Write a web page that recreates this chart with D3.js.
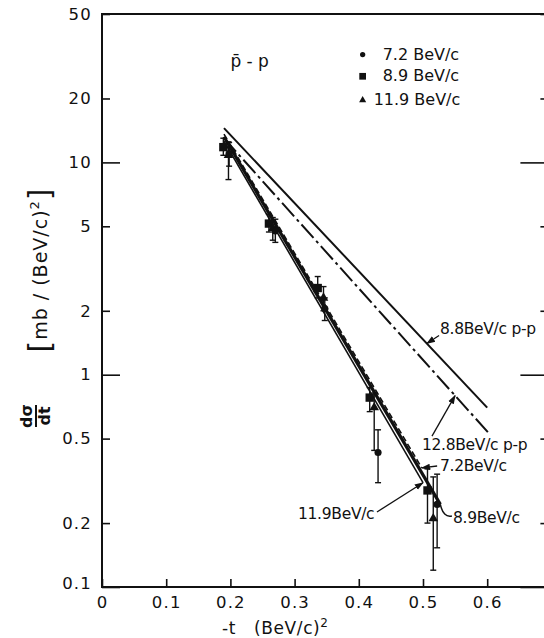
<!DOCTYPE html>
<html><head><meta charset="utf-8">
<script src="https://cdn.jsdelivr.net/npm/d3@7"></script>
<style>
body{margin:0;background:#fff}
svg text{font-family:"DejaVu Sans",sans-serif;fill:#111}
</style>
</head><body>
<svg id="chart" width="544" height="638"></svg>
<script>
// ---------- data ----------
const xTickValues = [0, 0.1, 0.2, 0.3, 0.4, 0.5, 0.6, 0.7];
const xTickLabels = ["0", "0.1", "0.2", "0.3", "0.4", "0.5", "0.6", ""];
const yTickValues = [0.1, 0.2, 0.5, 1, 2, 5, 10, 20, 50];
const yTickLabels = ["0.1", "0.2", "0.5", "1", "2", "5", "10", "20", "50"];

const seriesNames = ["7.2 BeV/c", "8.9 BeV/c", "11.9 BeV/c"];

// 7.2 BeV/c (circles): -t, dσ/dt, lower error, upper error
const t72  = [0.198, 0.270, 0.347, 0.430, 0.522];
const v72  = [11.0, 4.75, 2.05, 0.43, 0.245];
const lo72 = [9.6, 4.2, 1.8, 0.31, 0.153];
const hi72 = [12.4, 5.4, 2.3, 0.55, 0.34];

// 8.9 BeV/c (squares)
const t89  = [0.189, 0.260, 0.336, 0.417, 0.507];
const v89  = [11.8, 5.15, 2.56, 0.78, 0.285];
const lo89 = [10.8, 4.7, 2.3, 0.67, 0.20];
const hi89 = [13.0, 5.7, 2.9, 0.87, 0.36];

// 11.9 BeV/c (triangles)
const t119  = [0.197, 0.266, 0.345, 0.424, 0.516];
const v119  = [10.8, 4.9, 2.3, 0.70, 0.21];
const lo119 = [8.3, 4.3, 2.0, 0.44, 0.12];
const hi119 = [12.5, 5.5, 2.6, 0.82, 0.33];

// fitted p̄-p curves (end points of exponential fits)
const fitT72  = [0.19, 0.498];  const fitV72  = [13.6, 0.364];
const fitT89  = [0.19, 0.527];  const fitV89  = [13.2, 0.245];
const fitT119 = [0.19, 0.500];  const fitV119 = [12.6, 0.31];

// p-p reference curves
const ppT88  = [0.19, 0.600];  const ppV88  = [14.5, 0.70];
const ppT128 = [0.19, 0.605];  const ppV128 = [13.0, 0.52];

// ---------- chart ----------
const svg = d3.select("#chart");
const x = d3.scaleLinear().domain([0, 0.7]).range([102, 551.4]);
const y = d3.scaleLog().domain([0.1, 50]).range([587, 14]);
const ink = "#111";

const zip = (ts, vs) => ts.map((t, i) => [t, vs[i]]);
const line = d3.line().x(d => x(d[0])).y(d => y(d[1]));
const onLine = (ts, vs, t) => {
  const f = (t - ts[0]) / (ts[1] - ts[0]);
  return [t, Math.exp(Math.log(vs[0]) + f * (Math.log(vs[1]) - Math.log(vs[0])))];
};

// arrow marker
svg.append("defs").append("marker")
  .attr("id", "arr").attr("viewBox", "0 0 10 10").attr("refX", 9).attr("refY", 5)
  .attr("markerWidth", 7).attr("markerHeight", 7).attr("orient", "auto-start-reverse")
  .append("path").attr("d", "M0,1.5 L10,5 L0,8.5 Z").attr("fill", ink);

// frame
const frame = svg.append("g").attr("fill", "none").attr("stroke", ink).attr("stroke-width", 2);
frame.append("path").attr("d", d3.line()([[x(0.7), y(50)], [x(0), y(50)], [x(0), y(0.1)], [x(0.7), y(0.1)], [x(0.7), y(50)]]));

// axes
const yAxis = d3.axisLeft(y).tickValues(yTickValues)
  .tickFormat((d, i) => yTickLabels[i]).tickSizeInner(-8).tickSizeOuter(0).tickPadding(10);
const gy = svg.append("g").attr("transform", `translate(${x(0)},0)`).call(yAxis);
gy.select(".domain").remove();
gy.selectAll(".tick line").attr("stroke", ink).attr("stroke-width", 1.6)
  .attr("x2", d => (Math.log10(d) % 1 === 0 ? 18 : 8));
gy.selectAll(".tick text").attr("font-size", 16.5).attr("letter-spacing", 1.2).attr("fill", ink);
gy.selectAll(".tick").filter(d => d === 0.1).select("text").attr("dy", "0.1em");

const yAxisR = d3.axisRight(y).tickValues(yTickValues).tickFormat("").tickSizeInner(-8).tickSizeOuter(0);
const gyr = svg.append("g").attr("transform", `translate(${x(0.7)},0)`).call(yAxisR);
gyr.select(".domain").remove();
gyr.selectAll(".tick line").attr("stroke", ink).attr("stroke-width", 1.6)
  .attr("x2", d => (Math.log10(d) % 1 === 0 ? -31 : -11));

const xAxis = d3.axisBottom(x).tickValues(xTickValues)
  .tickFormat((d, i) => xTickLabels[i]).tickSizeInner(-8).tickSizeOuter(0).tickPadding(9);
const gx = svg.append("g").attr("transform", `translate(0,${y(0.1)})`).call(xAxis);
gx.select(".domain").remove();
gx.selectAll(".tick line").attr("stroke", ink).attr("stroke-width", 1.6);
gx.selectAll(".tick text").attr("font-size", 16.5).attr("letter-spacing", 1.2).attr("fill", ink);

// axis titles
svg.append("text").attr("x", x(0.27)).attr("y", 634).attr("text-anchor", "middle")
  .attr("font-size", 17).attr("letter-spacing", 0.6)
  .html('-t&#160;&#160;&#160;(BeV/c)<tspan dy="-7" font-size="12">2</tspan>');

const yt = svg.append("g").attr("transform", "translate(36,416) rotate(-90)");
yt.append("text").attr("x", 0).attr("y", -4).attr("text-anchor", "middle")
  .attr("font-size", 16).attr("font-weight", "bold").text("dσ");
yt.append("line").attr("x1", -11).attr("x2", 11).attr("y1", 0).attr("y2", 0)
  .attr("stroke", ink).attr("stroke-width", 2);
yt.append("text").attr("x", 0).attr("y", 14).attr("text-anchor", "middle")
  .attr("font-size", 16).attr("font-weight", "bold").text("dt");

const yt2 = svg.append("g").attr("transform", "translate(47,270) rotate(-90)");
yt2.append("text").attr("text-anchor", "middle").attr("font-size", 19).attr("letter-spacing", 1)
  .html('<tspan font-size="30" dy="3">[</tspan><tspan dy="-3">mb / (BeV/c)</tspan><tspan dy="-8" font-size="13">2</tspan><tspan font-size="30" dy="11">]</tspan>');

// p-p lines
svg.append("path").datum(zip(ppT88, ppV88)).attr("d", line)
  .attr("fill", "none").attr("stroke", ink).attr("stroke-width", 2);
svg.append("path").datum(zip(ppT128, ppV128)).attr("d", line)
  .attr("fill", "none").attr("stroke", ink).attr("stroke-width", 2)
  .attr("stroke-dasharray", "18,4,3,4");

// fit lines
svg.append("path").datum(zip(fitT89, fitV89)).attr("d", line)
  .attr("fill", "none").attr("stroke", ink).attr("stroke-width", 3.2);
svg.append("path").datum(zip(fitT119, fitV119)).attr("d", line)
  .attr("fill", "none").attr("stroke", ink).attr("stroke-width", 1.6);
svg.append("path").datum(zip(fitT72, fitV72)).attr("d", line)
  .attr("fill", "none").attr("stroke", ink).attr("stroke-width", 1.6)
  .attr("stroke-dasharray", "6,3");

// error bars + markers
function errorBars(ts, vs, lo, hi) {
  const g = svg.append("g").attr("stroke", ink).attr("stroke-width", 1.4);
  ts.forEach((t, i) => {
    const cx = x(t);
    g.append("line").attr("x1", cx).attr("x2", cx).attr("y1", y(lo[i])).attr("y2", y(hi[i]));
    g.append("line").attr("x1", cx - 3).attr("x2", cx + 3).attr("y1", y(lo[i])).attr("y2", y(lo[i]));
    g.append("line").attr("x1", cx - 3).attr("x2", cx + 3).attr("y1", y(hi[i])).attr("y2", y(hi[i]));
  });
}
errorBars(t72, v72, lo72, hi72);
errorBars(t89, v89, lo89, hi89);
errorBars(t119, v119, lo119, hi119);

const symCircle = d3.symbol().type(d3.symbolCircle);
const symSquare = d3.symbol().type(d3.symbolSquare);
const symTri = d3.symbol().type(d3.symbolTriangle);
svg.append("g").selectAll("path").data(zip(t89, v89)).join("path")
  .attr("transform", d => `translate(${x(d[0])},${y(d[1])})`).attr("d", symSquare.size(70)()).attr("fill", ink);
svg.append("g").selectAll("path").data(zip(t119, v119)).join("path")
  .attr("transform", d => `translate(${x(d[0])},${y(d[1])})`).attr("d", symTri.size(40)()).attr("fill", ink);
svg.append("g").selectAll("path").data(zip(t72, v72)).join("path")
  .attr("transform", d => `translate(${x(d[0])},${y(d[1])})`).attr("d", symCircle.size(40)()).attr("fill", ink);

// title and legend
svg.append("text").attr("x", x(0.2)).attr("y", 67).attr("font-size", 17).text("p\u0304 - p");
const legSyms = [symCircle.size(22)(), symSquare.size(45)(), symTri.size(22)()];
const legX = x(0.406);
const legY = [y(30.5), y(24.1), y(18.6)];
seriesNames.forEach((s, i) => {
  svg.append("path").attr("d", legSyms[i]).attr("fill", ink)
    .attr("transform", `translate(${legX},${legY[i] - 5})`);
  svg.append("text").attr("x", legX + (i === 2 ? 11 : 20)).attr("y", legY[i])
    .attr("font-size", 16).text(s);
});

// annotations (anchored in data units)
const annotations = [
  { text: "8.8BeV/c p-p", at: [0.5265, 1.555], tail: [0.525, 1.53], tip: onLine(ppT88, ppV88, 0.506) },
  { text: "12.8BeV/c p-p", at: [0.4984, 0.442], tail: [0.514, 0.514], tip: onLine(ppT128, ppV128, 0.55) },
  { text: "7.2BeV/c", at: [0.5265, 0.352], tail: [0.522, 0.3715], tip: [fitT72[1], fitV72[1]] },
  { text: "11.9BeV/c", at: [0.3053, 0.209], tail: [0.4283, 0.2256], tip: [fitT119[1], fitV119[1]] },
];
annotations.forEach(a => {
  svg.append("text").attr("x", x(a.at[0])).attr("y", y(a.at[1])).attr("font-size", 15.5)
    .attr("letter-spacing", -0.3).text(a.text);
  svg.append("line").attr("x1", x(a.tail[0])).attr("y1", y(a.tail[1]))
    .attr("x2", x(a.tip[0])).attr("y2", y(a.tip[1]))
    .attr("stroke", ink).attr("stroke-width", 1.3).attr("marker-end", "url(#arr)");
});
// 8.9 label with curved leader
svg.append("text").attr("x", x(0.5467)).attr("y", y(0.2002)).attr("font-size", 15.5)
  .attr("letter-spacing", -0.3).text("8.9BeV/c");
const c0 = [x(fitT89[1]), y(fitV89[1])];
const c1 = [x(0.545), y(0.216)];
svg.append("path").attr("d", `M${c0[0]},${c0[1]} Q${c0[0] + 3},${c1[1] + 2} ${c1[0]},${c1[1]}`)
  .attr("fill", "none").attr("stroke", ink).attr("stroke-width", 1.5);
</script>
</body></html>
